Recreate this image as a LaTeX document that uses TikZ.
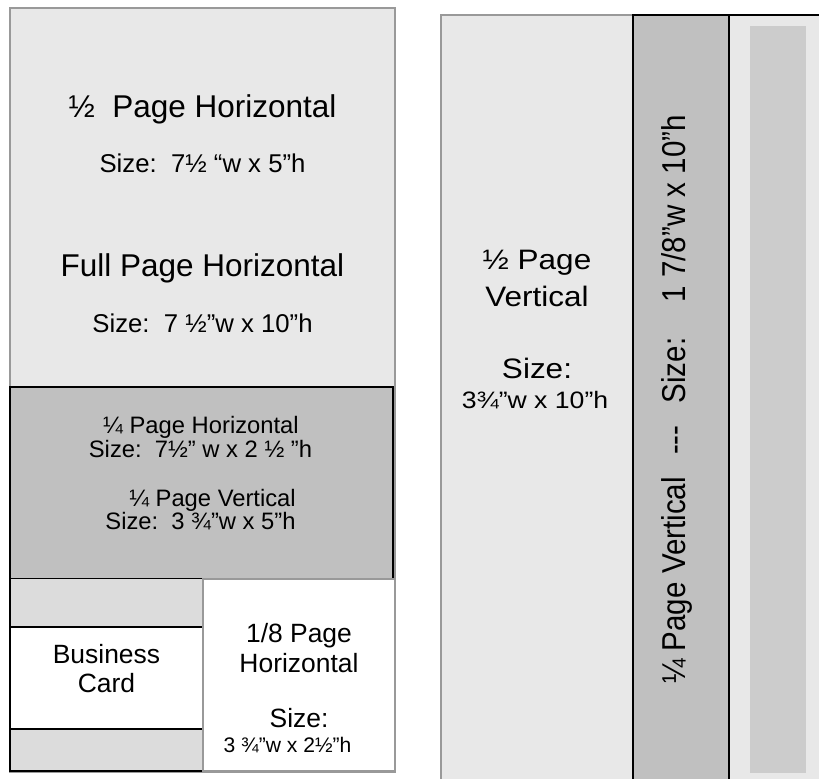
\documentclass[tikz,border=0pt]{standalone}
\usepackage{fontspec}
\setmainfont{Liberation Sans}
\definecolor{pagelight}{HTML}{E8E8E8}
\definecolor{quarterdark}{HTML}{C0C0C0}
\definecolor{stripgray}{HTML}{DCDCDC}
\definecolor{innergray}{HTML}{CCCCCC}
\definecolor{bordergray}{HTML}{999999}
\begin{document}
\begin{tikzpicture}[x=0.025cm,y=-0.025cm,
    lbl/.style={anchor=base,inner sep=0pt},
    titletext/.style={lbl,font=\fontsize{22.4}{26}\selectfont},
    sizetext/.style={lbl,font=\fontsize{18.3}{22}\selectfont},
    quartertext/.style={lbl,font=\fontsize{16.9}{20}\selectfont},
    cardtext/.style={lbl,font=\fontsize{18.8}{22}\selectfont},
    smalltext/.style={lbl,font=\fontsize{15}{18}\selectfont},
    verttext/.style={lbl,xscale=1.12,font=\fontsize{20}{24}\selectfont},
    vertsmall/.style={lbl,xscale=1.12,font=\fontsize{16.9}{20}\selectfont}]
                    \useasboundingbox (0,0) rectangle (819,778);
                    \fill [white] (0,0) rectangle (819,778);
                    \clip (0,0) rectangle (819,778);

                    % Drawing full page region
                    \draw [fill=pagelight, draw=bordergray, line width=1.4pt] (10,8) rectangle (395,772);%

                    % Drawing quarter page region
                    \draw [fill=quarterdark, draw=black, line width=1.9pt] (10,387) rectangle (393,579);%

                    % Drawing lower left strips
                    \fill [stripgray] (10,579) rectangle (203,771);%
                    \draw [draw=bordergray, line width=1pt] (203,579) -- (203,771);%
                    \draw [line width=1.9pt] (10,579) -- (10,771) -- (203,771);%

                    % Drawing business card
                    \draw [fill=white, line width=0.8pt] (10,627) rectangle (203,729);%

                    % Drawing eighth page region
                    \draw [fill=white, draw=bordergray, line width=1.4pt] (203,579) rectangle (395,771);%

                    % Marking half page horizontal
                    \node [titletext] (halfh) at (202.5,117) {½\ \ Page Horizontal};%
                    \node [sizetext] (halfhsize) at (202.5,172) {Size:\ \ 7½ “w x 5”h};%

                    % Marking full page horizontal
                    \node [titletext] (fullh) at (202.5,276) {Full Page Horizontal};%
                    \node [sizetext] (fullhsize) at (202.5,332) {Size:\ \ 7 ½”w x 10”h};%

                    % Marking quarter page texts
                    \node [quartertext] (quarterh) at (201,433) {¼ Page Horizontal};%
                    \node [quartertext] (quarterhsize) at (200.5,457) {Size:\ \ 7½” w x 2 ½ ”h};%
                    \node [quartertext] (quarterv) at (212.5,506) {¼ Page Vertical};%
                    \node [quartertext] (quartervsize) at (200.5,529) {Size:\ \ 3 ¾”w x 5”h};%

                    % Marking business card
                    \node [cardtext] (card1) at (106.5,663) {Business};%
                    \node [cardtext] (card2) at (106.5,692) {Card};%

                    % Marking eighth page
                    \node [cardtext] (eighth1) at (299,642) {1/8 Page};%
                    \node [cardtext] (eighth2) at (299,672) {Horizontal};%
                    \node [cardtext] (eighthsize) at (299,727) {Size:};%
                    \node [smalltext] (eighthdim) at (287.5,752) {3 ¾”w x 2½”h};%

                    % Drawing half page vertical column
                    \draw [fill=pagelight, draw=bordergray, line width=1.4pt] (441,15) rectangle (633,800);%

                    % Drawing right column
                    \draw [fill=pagelight, draw=black, line width=1.4pt] (729,15) rectangle (840,800);%
                    \fill [innergray] (750,26) rectangle (806,773);%

                    % Drawing quarter page vertical strip
                    \draw [fill=quarterdark, draw=black, line width=1.4pt] (633,15) rectangle (729,800);%

                    % Marking half page vertical
                    \node [verttext] (halfv1) at (537,269) {½ Page};%
                    \node [verttext] (halfv2) at (537,306) {Vertical};%
                    \node [verttext] (halfvsize) at (537,378) {Size:};%
                    \node [vertsmall] (halfvdim) at (535,408) {3¾”w x 10”h};%

                    % Marking quarter page vertical strip
                    \node [lbl, xscale=1.12, rotate=90, font=\fontsize{21}{25}\selectfont] (stripv) at (685,399.5)
                      {¼ Page Vertical\hspace{0.75em}-{}-{}-\hspace{0.75em}Size:\hspace{1.2em}1 7/8”w x 10”h};%
\end{tikzpicture}
\end{document}
